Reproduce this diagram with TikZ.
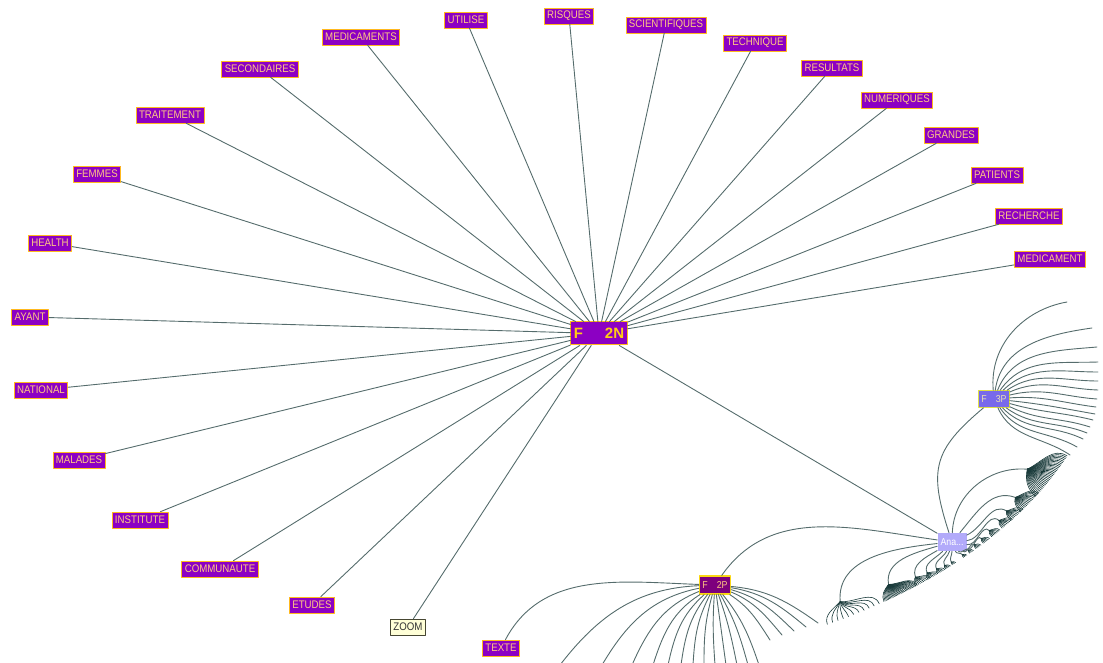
\documentclass[tikz,border=0pt]{standalone}
\usepackage{fontspec}
\setmainfont{Liberation Sans}
\newfontfamily\narrowsf{Liberation Sans}[FakeStretch=0.88]
\definecolor{lblfill}{RGB}{140,0,195}
\definecolor{lbltext}{RGB}{255,200,130}
\definecolor{lblline}{RGB}{255,185,30}
\definecolor{edgecol}{RGB}{85,108,108}
\definecolor{fancol}{RGB}{25,58,58}
\definecolor{zoomfill}{RGB}{255,255,215}
\definecolor{zoomline}{RGB}{70,70,50}
\definecolor{hubtext}{RGB}{255,205,20}
\definecolor{twopfill}{RGB}{125,0,125}
\definecolor{twopline}{RGB}{250,215,20}
\definecolor{threepfill}{RGB}{120,105,235}
\definecolor{threeptext}{RGB}{235,225,180}
\definecolor{threepline}{RGB}{225,225,70}
\definecolor{anafill}{RGB}{178,170,250}
\begin{document}
\begin{tikzpicture}[x=1pt, y=1pt, line cap=round, line join=round,
		lbl/.style={draw=lblline, fill=lblfill, text=lbltext, line width=0.7pt, inner xsep=3pt, inner ysep=0pt, minimum height=16pt, font={\narrowsf\fontsize{11}{11}\selectfont}},
		edge/.style={draw=edgecol, line width=0.9pt},
		fan/.style={draw=fancol, line width=0.6pt}]
	\def\ra{555}
	\def\rb{338}
	\def\ox{551.5}
	\def\oy{331}
	\useasboundingbox (0,0) rectangle (1103,662);
	\clip (0,0) rectangle (1103,662);
	\node[lbl, minimum height=23pt, line width=1pt, text=hubtext, font={\bfseries\fontsize{15}{15}\selectfont}] (F2N) at (599,328.5) {F\hspace{22pt}2N};
	\node[lbl, fill=twopfill, draw=twopline, line width=1.2pt, minimum height=18pt, font={\narrowsf\fontsize{10}{10}\selectfont}] (F2P) at (715,77) {F\hspace{9pt}2P};
	\node[lbl, fill=threepfill, draw=threepline, text=threeptext, minimum height=17pt, font={\narrowsf\fontsize{10}{10}\selectfont}] (F3P) at (994,263) {F\hspace{9pt}3P};
	\node[lbl, fill=anafill, draw=none, text=white, minimum height=18pt, font={\narrowsf\fontsize{10}{10}\selectfont}] (Ana) at (952,120) {Ana...};
	\node[lbl, fill=zoomfill, draw=zoomline, text=black!80] (zoom) at (408,35) {ZOOM};
	\node[lbl] (texte) at (501,14) {TEXTE};
	\foreach \n/\x/\y/\s in {
			utilise/466/642/UTILISE, risques/569/646/RISQUES,
			scientifiques/666/637/SCIENTIFIQUES, technique/755/619/TECHNIQUE,
			resultats/832/594/RESULTATS, numeriques/897/562/NUMERIQUES,
			grandes/951/527/GRANDES, patients/997/487/PATIENTS,
			recherche/1029/446/RECHERCHE, medicament/1050/403/MEDICAMENT,
			medicaments/361/625/MEDICAMENTS, secondaires/260/593/SECONDAIRES,
			traitement/170/547/TRAITEMENT, femmes/97/488/FEMMES,
			health/50/419/HEALTH, ayant/30/345/AYANT,
			national/41/272/NATIONAL, malades/79/202/MALADES,
			institute/140/142/INSTITUTE, communaute/220/93/COMMUNAUTE,
			etudes/312/57/ETUDES}
		{\node[lbl] (\n) at (\x,\y) {\s};
		\draw[edge] (F2N) -- (\n);}
	\draw[edge] (F2N) -- (zoom);
	\draw[edge] (F2N) -- (Ana);
	\draw[edge] (Ana) to[out=108, in=-140, looseness=1.3] (F3P);
	\draw[edge] (Ana) to[out=172, in=55] (F2P);
	\draw[edge] (F2P) to[out=178, in=62] (texte);
	\foreach \x/\y/\bb in {560/-3/-25, 602/-3/-24, 632/-3/-22, 653/-3/-20, 668/-3/-18, 681/-3/-15,
			693/-3/-12, 704/-3/-8, 715/-3/-4, 726/-3/0, 737/-3/4, 748/-3/7, 759/-3/10,
			770/22/12, 782/27/13, 794/31/14, 806/35/15, 818/39/15}
		{\pgfmathsetmacro\chord{atan2(\y-77,\x-715)}
		\pgfmathsetmacro\aout{\chord+\bb}
		\pgfmathsetmacro\ain{\chord-\bb+180}
		\draw[edge] (F2P) to[out=\aout, in=\ain] (\x,\y);}
	\foreach \x/\y/\oa/\ia in {1067/360/95/190, 1092/334/82/188, 1097/315/68/185, 1098/300/55/182,
			1098/290/44/180, 1098/281/34/180, 1098/272/24/178, 1097/263/14/176,
			1096/255/4/173, 1095/248/-6/170, 1093/242/-16/166, 1090/235/-26/162,
			1087/229/-36/158, 1083/223/-46/154, 1077/215/-56/150, 1070/207/-66/146}
		\draw[edge] (F3P) to[out=\oa, in=\ia] (\x,\y);
	\foreach \ta/\oa/\ia/\ww/\nk/\rr in {
			-57/186/95/3.2/11/0.955, -51/196/100/2.2/30/0.965,
			-48/210/110/1.0/10/0.98, -46.6/225/115/0.7/8/0.985,
			-45.4/240/118/0.5/6/0.988, -44.4/255/120/0.35/5/0.991,
			-43.5/270/122/0.25/4/0.993, -41.8/290/125/0.25/4/0.993,
			-40.8/305/128/0.3/4/0.992, -39.7/320/130/0.4/5/0.99,
			-38.4/335/133/0.5/6/0.988, -36.8/350/137/0.7/8/0.985,
			-34.8/5/142/0.9/9/0.982, -33/25/148/1.1/10/0.978,
			-30.5/50/160/1.8/16/0.97, -25.5/88/175/3.8/32/0.95}
		{\coordinate (hub) at ({\ox+\rr*\ra*cos(\ta)},{\oy+\rr*\rb*sin(\ta)});
		\draw[edge] (Ana) to[out=\oa, in=\ia] (hub);
		\pgfmathsetmacro\nt{atan2(\ra*sin(\ta),\rb*cos(\ta))}
		\foreach \mm in {1,...,\nk}
			{\pgfmathsetmacro\dd{\ta-\ww+2*\ww*(\mm-1)/(\nk-1)}
			\pgfmathsetmacro\aout{\nt+65*(\dd-\ta)/\ww}
			\pgfmathsetmacro\ain{atan2(\ra*sin(\dd),\rb*cos(\dd))+180}
			\coordinate (leaf) at ({\ox+\ra*cos(\dd)},{\oy+\rb*sin(\dd)});
			\draw[fan] (hub) to[out=\aout, in=\ain] (leaf);}}
\end{tikzpicture}
\end{document}
